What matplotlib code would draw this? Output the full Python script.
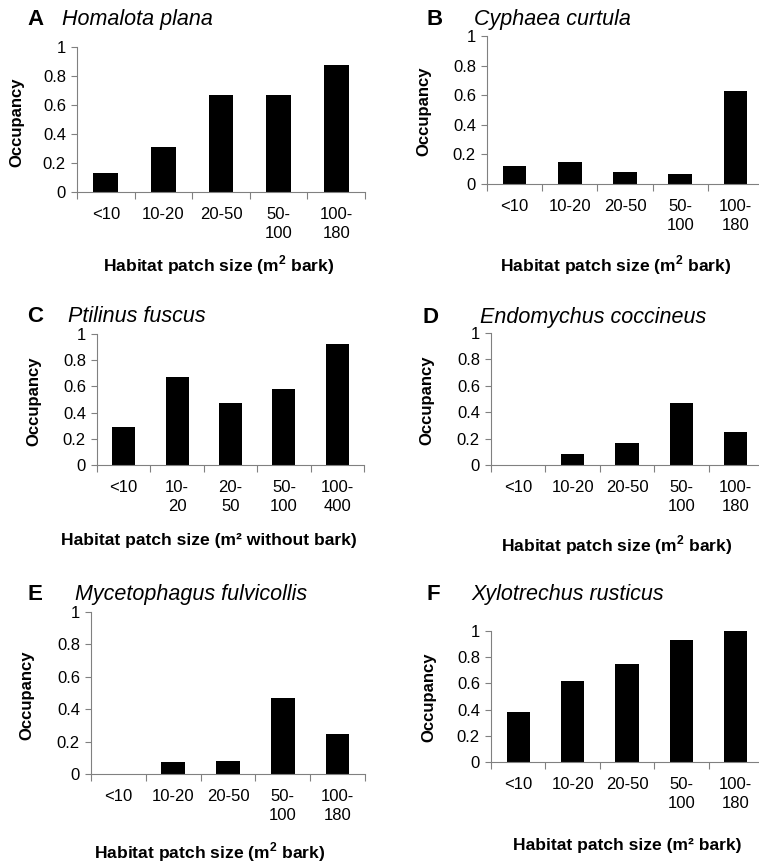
import matplotlib.pyplot as plt

plt.rcParams['font.family'] = ['Liberation Sans', 'DejaVu Sans']
plt.rcParams['mathtext.fontset'] = 'custom'
plt.rcParams['mathtext.rm'] = 'Liberation Sans:bold'
plt.rcParams['mathtext.bf'] = 'Liberation Sans:bold'

W, H = 759, 863

# Data per panel
letters = ["A", "B", "C", "D", "E", "F"]
species = ["Homalota plana", "Cyphaea curtula", "Ptilinus fuscus",
           "Endomychus coccineus", "Mycetophagus fulvicollis", "Xylotrechus rusticus"]
cats_bark = ["<10", "10-20", "20-50", "50-\n100", "100-\n180"]
cats_nobark = ["<10", "10-\n20", "20-\n50", "50-\n100", "100-\n400"]
homalota = [0.13, 0.31, 0.67, 0.67, 0.875]
cyphaea = [0.12, 0.15, 0.08, 0.07, 0.63]
ptilinus = [0.29, 0.67, 0.47, 0.58, 0.92]
endomychus = [0.0, 0.08, 0.17, 0.47, 0.25]
mycetophagus = [0.0, 0.075, 0.08, 0.47, 0.245]
xylotrechus = [0.38, 0.62, 0.75, 0.93, 1.0]
xlab_bark = r"Habitat patch size (m$^{\mathbf{2}}$ bark)"
xlab_nobark = "Habitat patch size (m² without bark)"
xlab_bark2 = "Habitat patch size (m² bark)"

values = [homalota, cyphaea, ptilinus, endomychus, mycetophagus, xylotrechus]
cats = [cats_bark, cats_bark, cats_nobark, cats_bark, cats_bark, cats_bark]
xlabels = [xlab_bark, xlab_bark, xlab_nobark, xlab_bark, xlab_bark, xlab_bark2]

# layout in pixels: left, right, top(y=1), bottom(y=0)
boxes = [(77, 365, 47, 192), (487, 763, 36, 184),
         (97, 364, 334, 465), (491, 763, 333, 465),
         (91, 365, 612, 774), (491, 763, 631, 762)]
letter_pos = [(27, 25), (426, 25), (27, 322), (423, 323), (27, 600), (426, 600)]
title_pos = [(62, 25), (474, 25), (68, 322), (480, 323), (75, 600), (471, 600)]
ylab_pos = [(17, 122), (424, 111), (34, 401), (427, 400), (27, 695), (429, 697)]
xlab_pos = [(219, 265), (616, 265), (209, 540), (617, 545), (210, 852), (627, 845)]

fig = plt.figure(figsize=(W / 100, H / 100), dpi=100)
gray = "#808080"

for i in range(6):
    l, r, t, b = boxes[i]
    ax = fig.add_axes([l / W, 1 - b / H, (r - l) / W, (b - t) / H])
    x = list(range(5))
    ax.bar(x, values[i], width=0.43, color="black")
    ax.set_xlim(-0.5, 4.5)
    ax.set_ylim(0, 1)
    ax.set_yticks([0, 0.2, 0.4, 0.6, 0.8, 1])
    ax.set_yticklabels(["0", "0.2", "0.4", "0.6", "0.8", "1"])
    ax.set_xticks([-0.5, 0.5, 1.5, 2.5, 3.5, 4.5])
    ax.set_xticklabels([])
    ax.set_xticks(x, minor=True)
    ax.set_xticklabels(cats[i], minor=True, linespacing=1.3)
    ax.tick_params(axis="x", which="major", length=5, color=gray, width=0.8)
    ax.tick_params(axis="x", which="minor", length=0, pad=11, labelsize=12)
    ax.tick_params(axis="y", length=4, color=gray, width=0.8, pad=4, labelsize=12)
    for s in ["top", "right"]:
        ax.spines[s].set_visible(False)
    for s in ["left", "bottom"]:
        ax.spines[s].set_color(gray)
        ax.spines[s].set_linewidth(0.8)

    fig.text(letter_pos[i][0] / W, 1 - letter_pos[i][1] / H, letters[i],
             fontsize=16, fontweight="bold", va="baseline", ha="left")
    fig.text(title_pos[i][0] / W, 1 - title_pos[i][1] / H, species[i],
             fontsize=15.5, style="italic", va="baseline", ha="left")
    fig.text(ylab_pos[i][0] / W, 1 - ylab_pos[i][1] / H, "Occupancy",
             fontsize=12, fontweight="bold", rotation=90, va="center", ha="center")
    fig.text(xlab_pos[i][0] / W, 1 - xlab_pos[i][1] / H, xlabels[i],
             fontsize=12.6, fontweight="bold", va="center", ha="center")

plt.savefig("out.png", dpi=100)
